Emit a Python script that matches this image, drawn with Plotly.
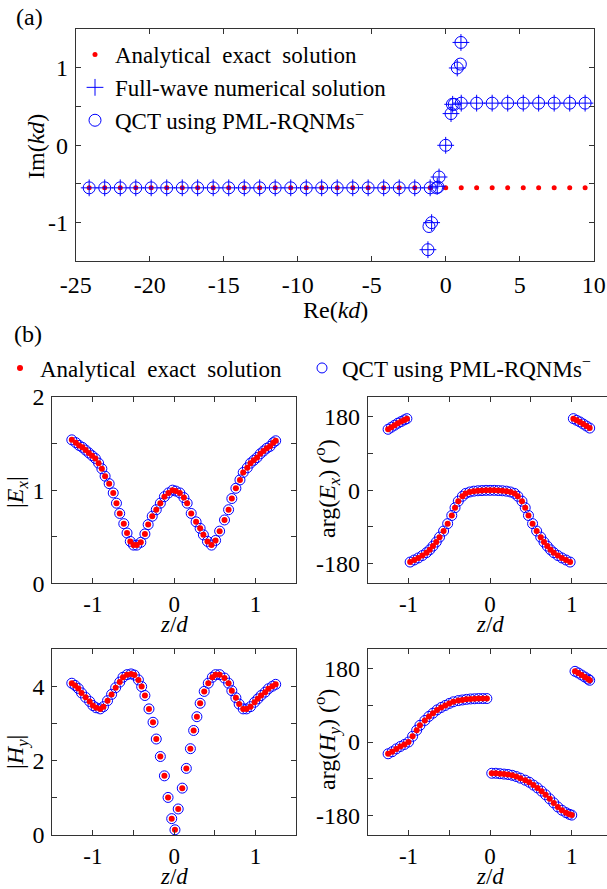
import plotly.graph_objects as go

FONT = "Liberation Serif"
W, H = 607, 889

# ---------------- Panel (a): complex kd plane ----------------
re_analytic = [-24.09, -23.04, -21.99, -20.94, -19.90, -18.85, -17.80, -16.76, -15.71, -14.66,
               -13.61, -12.57, -11.52, -10.47, -9.42, -8.38, -7.33, -6.28, -5.24, -4.19,
               -3.14, -2.09, -1.05, 0.0, 1.05, 2.09, 3.14, 4.19, 5.24, 6.28, 7.33, 8.38, 9.42]
im_analytic = [-0.55] * len(re_analytic)

re_left_row = [-24.09, -23.04, -21.99, -20.94, -19.90, -18.85, -17.80, -16.76, -15.71, -14.66,
               -13.61, -12.57, -11.52, -10.47, -9.42, -8.38, -7.33, -6.28, -5.24, -4.19,
               -3.14, -2.09, -1.05]
re_right_row = [1.05, 2.09, 3.14, 4.19, 5.24, 6.28, 7.33, 8.38, 9.42]

re_fw_branch = [-1.20, -0.95, -0.57, -0.45, 0.0, 0.36, 0.47, 0.78, 1.03]
im_fw_branch = [-1.35, -1.00, -0.53, -0.41, 0.0, 0.41, 0.53, 1.00, 1.33]
re_qct_branch = [-1.20, -1.13, -0.95, -0.62, -0.52, -0.45, 0.0, 0.36, 0.45, 0.58, 0.78, 0.99, 1.03]
im_qct_branch = [-1.35, -1.05, -1.00, -0.55, -0.54, -0.41, 0.0, 0.41, 0.53, 0.53, 1.00, 1.05, 1.33]

re_fullwave = re_left_row + re_fw_branch + re_right_row
im_fullwave = [-0.55] * len(re_left_row) + im_fw_branch + [0.545] * len(re_right_row)
re_qct = re_left_row + re_qct_branch + re_right_row
im_qct = [-0.55] * len(re_left_row) + im_qct_branch + [0.545] * len(re_right_row)

a_xticks = [-25, -20, -15, -10, -5, 0, 5, 10]
a_xticktext = ["-25", "-20", "-15", "-10", "-5", "0", "5", "10"]
a_yticks = [-1.5, -1, -0.5, 0, 0.5, 1, 1.5]
a_yticktext = ["", "-1", "", "0", "", "1", ""]

# ---------------- Panel (b): field profiles ----------------
z_ex = [-1.26, -1.21, -1.17, -1.13, -1.09, -1.05, -1.01, -0.97, -0.93, -0.89,
        -0.85, -0.80, -0.75, -0.71, -0.67, -0.62, -0.58, -0.54, -0.50, -0.46,
        -0.41, -0.36, -0.32, -0.27, -0.22, -0.17, -0.12, -0.07, -0.02, 0.02,
        0.07, 0.12, 0.16, 0.21, 0.27, 0.32, 0.36, 0.41, 0.46, 0.51,
        0.56, 0.62, 0.67, 0.71, 0.76, 0.81, 0.85, 0.90, 0.94, 0.98,
        1.02, 1.06, 1.10, 1.14, 1.18, 1.22, 1.25]
ex_abs = [1.54, 1.51, 1.48, 1.46, 1.43, 1.40, 1.37, 1.34, 1.29, 1.23,
          1.15, 1.07, 0.97, 0.86, 0.75, 0.64, 0.54, 0.45, 0.41, 0.41,
          0.44, 0.53, 0.63, 0.72, 0.79, 0.86, 0.93, 0.97, 1.00, 0.99,
          0.97, 0.92, 0.86, 0.75, 0.66, 0.59, 0.52, 0.45, 0.41, 0.46,
          0.56, 0.68, 0.79, 0.91, 1.02, 1.11, 1.19, 1.24, 1.29, 1.32,
          1.35, 1.39, 1.42, 1.45, 1.47, 1.51, 1.53]

z_ex_arg_l = [-1.25, -1.21, -1.17, -1.13, -1.09, -1.05, -1.02]
ex_arg_l = [149, 154, 159, 164, 168, 172, 175]
z_ex_arg_m = [-0.98, -0.93, -0.88, -0.83, -0.78, -0.74, -0.70, -0.66, -0.62, -0.57,
              -0.52, -0.47, -0.43, -0.39, -0.34, -0.30, -0.25, -0.20, -0.15, -0.10,
              -0.05, 0.0, 0.05, 0.10, 0.15, 0.20, 0.25, 0.30, 0.34, 0.39,
              0.43, 0.47, 0.52, 0.57, 0.62, 0.66, 0.70, 0.74, 0.78, 0.83,
              0.88, 0.93, 0.98]
ex_arg_m = [-176, -171, -166, -160, -153, -146, -137, -127, -115, -100,
            -82, -62, -43, -27, -15, -8, -4.5, -2.5, -1.5, -1,
            -0.5, -0.5, -0.5, -1, -1.5, -2.5, -4.5, -8, -15, -27,
            -43, -62, -82, -100, -115, -127, -137, -146, -153, -160,
            -166, -171, -176]
z_ex_arg_r = [1.02, 1.06, 1.10, 1.14, 1.18, 1.22]
ex_arg_r = [175, 171, 167, 162, 157, 152]

z_hy = [-1.26, -1.22, -1.18, -1.14, -1.09, -1.04, -1.00, -0.96, -0.91, -0.87,
        -0.82, -0.77, -0.72, -0.67, -0.63, -0.58, -0.53, -0.49, -0.44, -0.40,
        -0.36, -0.31, -0.26, -0.22, -0.17, -0.12, -0.075, -0.03, 0.01, 0.05,
        0.10, 0.15, 0.20, 0.24, 0.28, 0.32, 0.37, 0.42, 0.47, 0.51,
        0.56, 0.62, 0.67, 0.71, 0.76, 0.80, 0.85, 0.89, 0.94, 0.99,
        1.03, 1.07, 1.12, 1.16, 1.21, 1.25]
hy_abs = [4.08, 4.02, 3.94, 3.82, 3.70, 3.59, 3.48, 3.42, 3.39, 3.45,
          3.61, 3.78, 3.96, 4.11, 4.24, 4.31, 4.33, 4.30, 4.17, 3.99,
          3.75, 3.39, 3.03, 2.58, 2.11, 1.59, 1.01, 0.44, 0.14, 0.70,
          1.26, 1.79, 2.32, 2.81, 3.18, 3.54, 3.86, 4.08, 4.24, 4.31,
          4.31, 4.22, 4.08, 3.88, 3.69, 3.52, 3.39, 3.39, 3.45, 3.57,
          3.66, 3.75, 3.84, 3.93, 4.00, 4.05]

z_hy_arg_l = [-1.25, -1.20, -1.15, -1.10, -1.05, -1.00, -0.95, -0.90, -0.86, -0.80,
              -0.75, -0.70, -0.65, -0.60, -0.55, -0.50, -0.45, -0.39, -0.34, -0.29,
              -0.24, -0.19, -0.14, -0.09, -0.04]
hy_arg_l = [-29, -24, -17, -11, -6, 0, 14, 29, 41, 53,
            63, 71, 79, 85, 90, 95, 99, 102, 103.5, 105,
            106, 106.5, 107, 107, 107]
z_hy_arg_m = [0.02, 0.07, 0.12, 0.17, 0.22, 0.27, 0.32, 0.37, 0.43, 0.48,
              0.53, 0.58, 0.63, 0.68, 0.73, 0.78, 0.83, 0.88, 0.93, 0.97, 1.00]
hy_arg_m = [-77, -77, -78, -79, -80, -82, -85, -89, -94, -99,
            -106, -113, -121, -130, -140, -150, -160, -168, -174, -178, -180]
z_hy_arg_r = [1.04, 1.08, 1.12, 1.16, 1.20, 1.22]
hy_arg_r = [174, 170, 165, 160, 155, 152]

b_zticks = [-1.5, -1, -0.5, 0, 0.5, 1, 1.5]
b_zticktext = ["", "-1", "", "0", "", "1", ""]
ex_abs_ticks = [0, 0.5, 1, 1.5, 2]
ex_abs_ticktext = ["0", "", "1", "", "2"]
hy_abs_ticks = [0, 1, 2, 3, 4, 5]
hy_abs_ticktext = ["0", "", "2", "", "4", ""]
arg_ticks = [-180, -90, 0, 90, 180]
arg_ticktext = ["-180", "", "0", "", "180"]

# ---------------- styling helpers ----------------
def px(x):
    return x / W

def py(y):
    return 1 - y / H

RED = "#ff0000"
BLUE = "#0000ff"
AXC = "#333333"

fig = go.Figure()

# panel (a)
fig.add_trace(go.Scatter(x=re_analytic, y=im_analytic, mode="markers", xaxis="x", yaxis="y",
                         marker=dict(symbol="circle", size=5, color=RED),
                         name="Analytical  exact  solution", legend="legend"))
fig.add_trace(go.Scatter(x=re_fullwave, y=im_fullwave, mode="markers", xaxis="x", yaxis="y",
                         marker=dict(symbol="cross-thin-open", size=12, color=BLUE,
                                     line=dict(width=1, color=BLUE)),
                         name="Full-wave numerical solution", legend="legend"))
fig.add_trace(go.Scatter(x=re_qct, y=im_qct, mode="markers", xaxis="x", yaxis="y",
                         marker=dict(symbol="circle-open", size=12, color=BLUE,
                                     line=dict(width=1, color=BLUE)),
                         name="QCT using PML-RQNMs<sup>\u2212</sup>", legend="legend"))

# panel (b)
panels = [
    ("x2", "y2", z_ex, ex_abs),
    ("x3", "y3", z_ex_arg_l + z_ex_arg_m + z_ex_arg_r, ex_arg_l + ex_arg_m + ex_arg_r),
    ("x4", "y4", z_hy, hy_abs),
    ("x5", "y5", z_hy_arg_l + z_hy_arg_m + z_hy_arg_r, hy_arg_l + hy_arg_m + hy_arg_r),
]
for i, (xa, ya, zz, vv) in enumerate(panels):
    fig.add_trace(go.Scatter(x=zz, y=vv, mode="markers", xaxis=xa, yaxis=ya,
                             marker=dict(symbol="circle-open", size=10, color=BLUE,
                                         line=dict(width=1, color=BLUE)),
                             name="QCT using PML-RQNMs<sup>\u2212</sup>", legend="legend3",
                             showlegend=(i == 0)))
    fig.add_trace(go.Scatter(x=zz, y=vv, mode="markers", xaxis=xa, yaxis=ya,
                             marker=dict(symbol="circle", size=6, color=RED),
                             name="Analytical  exact  solution", legend="legend2",
                             showlegend=(i == 0)))

def axis(domain, rng, tickvals, ticktext, anchor, mirror="ticks", fsize=24, standoff=2):
    return dict(domain=domain, range=rng, tickvals=tickvals, ticktext=ticktext, anchor=anchor,
                showline=True, linecolor=AXC, linewidth=1, mirror=mirror,
                ticks="inside", ticklen=5, tickcolor=AXC, tickwidth=1,
                showgrid=False, zeroline=False,
                tickfont=dict(family=FONT, size=fsize, color="black"),
                ticklabelstandoff=standoff, automargin=False)

legend_font = dict(family=FONT, size=23, color="black")

fig.update_layout(
    width=W, height=H,
    margin=dict(l=0, r=0, t=0, b=0, autoexpand=False),
    paper_bgcolor="white", plot_bgcolor="white",
    font=dict(family=FONT, size=23, color="black"),
    hovermode=False,
    xaxis=axis([px(75.7), px(593.7)], [-25, 10], a_xticks, a_xticktext, "y"),
    yaxis=axis([py(261.3), py(29.3)], [-1.5, 1.5], a_yticks, a_yticktext, "x"),
    xaxis2=axis([px(52.3), px(296)], [-1.5, 1.5], b_zticks, b_zticktext, "y2", fsize=23, standoff=0),
    yaxis2=axis([py(583.3), py(397)], [0, 2], ex_abs_ticks, ex_abs_ticktext, "x2"),
    xaxis3=axis([px(367.7), 1.0], [-1.5, 1.432], b_zticks, b_zticktext, "y3", fsize=23, standoff=0),
    yaxis3=axis([py(583.3), py(397)], [-228, 228], arg_ticks, arg_ticktext, "x3", mirror=False),
    xaxis4=axis([px(52.3), px(296)], [-1.5, 1.5], b_zticks, b_zticktext, "y4", fsize=23, standoff=0),
    yaxis4=axis([py(835), py(649)], [0, 5], hy_abs_ticks, hy_abs_ticktext, "x4"),
    xaxis5=axis([px(367.7), 1.0], [-1.5, 1.432], b_zticks, b_zticktext, "y5", fsize=23, standoff=0),
    yaxis5=axis([py(835), py(649)], [-229, 229], arg_ticks, arg_ticktext, "x5", mirror=False),
    legend=dict(x=px(75), y=py(87.5), xanchor="left", yanchor="middle",
                font=legend_font, bgcolor="rgba(0,0,0,0)", itemsizing="trace",
                tracegroupgap=0),
    legend2=dict(orientation="h", x=px(0), y=py(368), xanchor="left", yanchor="middle",
                 font=legend_font, bgcolor="rgba(0,0,0,0)", itemsizing="trace"),
    legend3=dict(orientation="h", x=px(302), y=py(368), xanchor="left", yanchor="middle",
                 font=legend_font, bgcolor="rgba(0,0,0,0)", itemsizing="trace"),
    showlegend=True,
)

def ann(text, x, y, angle=0, size=24):
    fig.add_annotation(text=text, x=px(x), y=py(y), xref="paper", yref="paper",
                       xanchor="center", yanchor="middle", showarrow=False, textangle=angle,
                       font=dict(family=FONT, size=size, color="black"))

ann("(a)", 29, 17)
ann("(b)", 28, 334)
ann("Im(<i>kd</i>)", 36, 147, -90)
ann("Re(<i>kd</i>)", 335, 310)
ann("|<i>E<sub>x</sub></i>|", 17, 492, -90)
ann("|<i>H<sub>y</sub></i>|", 17, 752, -90)
ann("arg(<i>E<sub>x</sub></i>) (<sup>o</sup>)", 327, 489, -90)
ann("arg(<i>H<sub>y</sub></i>) (<sup>o</sup>)", 327, 740, -90)
for (xx, yy) in [(174, 624), (490, 624), (174, 876), (490, 876)]:
    ann("<i>z</i>/<i>d</i>", xx, yy, size=23)

fig.write_html("out.html",
               config={"displayModeBar": False, "staticPlot": True},
               post_script="document.body.style.margin='0';document.body.style.padding='0';"
                           "document.documentElement.style.overflow='hidden';")
